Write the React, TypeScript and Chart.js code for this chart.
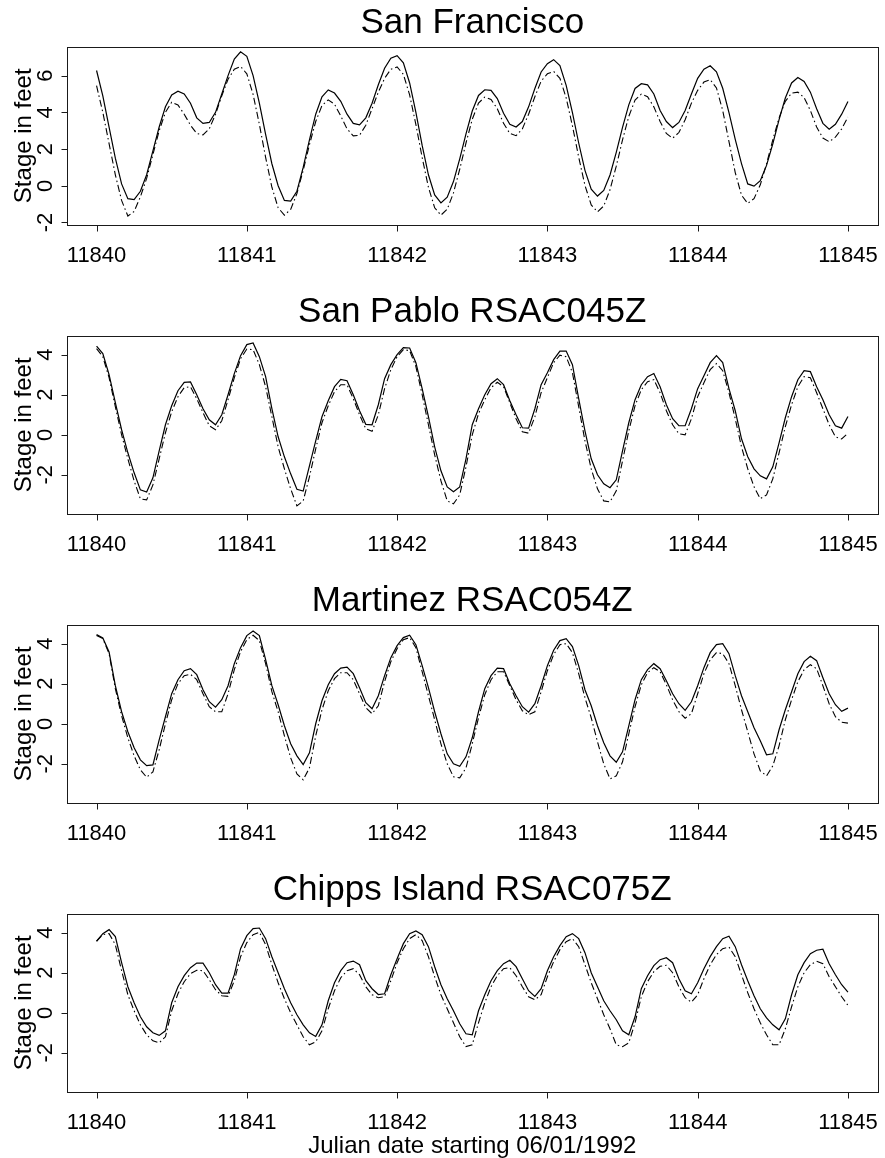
import React, { useEffect, useRef } from "react";
import { Chart, registerables } from "chart.js";

Chart.register(...registerables);

// ---------- data ----------
const START_DAY = 11840;
const HOURS_PER_DAY = 24;
const xTickValues = [11840, 11841, 11842, 11843, 11844, 11845];
const yTicksSF = [-2, 0, 2, 4, 6];
const yTicksDelta = [-2, 0, 2, 4];
const panelTitles = ["San Francisco", "San Pablo RSAC045Z", "Martinez RSAC054Z", "Chipps Island RSAC075Z"];
const xAxisTitle = "Julian date starting 06/01/1992";
const yAxisTitle = "Stage in feet";

// hourly stage values (ft), hour 0 .. 120
const sfSolid = [
  6.28, 4.9, 3.2, 1.5, 0.1, -0.7, -0.75, -0.3, 0.6, 1.9, 3.2, 4.3,
  4.95, 5.15, 5.0, 4.5, 3.7, 3.4, 3.45, 4.0, 5.0, 6.0, 6.9, 7.3,
  7.05, 6.0, 4.5, 2.8, 1.2, 0.0, -0.8, -0.84, -0.3, 1.0, 2.5, 3.9,
  4.85, 5.22, 5.05, 4.6, 3.9, 3.4, 3.32, 3.7, 4.5, 5.5, 6.4, 6.95,
  7.09, 6.7, 5.6, 4.0, 2.2, 0.6, -0.5, -0.93, -0.62, 0.23, 1.47, 2.83,
  4.07, 4.92, 5.23, 5.2, 4.75, 3.95, 3.35, 3.2, 3.5, 4.3, 5.3, 6.2,
  6.65, 6.87, 6.55, 5.47, 3.98, 2.33, 0.84, -0.19, -0.56, -0.25, 0.59, 1.82,
  3.18, 4.41, 5.3, 5.56, 5.5, 5.0, 4.1, 3.5, 3.17, 3.45, 4.1, 5.0,
  5.85, 6.35, 6.54, 6.21, 5.31, 3.99, 2.53, 1.21, 0.1, -0.02, 0.28, 1.11,
  2.28, 3.6, 4.78, 5.6, 5.9, 5.68, 5.1, 4.2, 3.4, 3.08, 3.35, 3.9,
  4.59,
];
const sfDashed = [
  5.45, 4.0, 2.3, 0.6, -0.8, -1.65, -1.4, -0.6, 0.4, 1.7, 3.0, 4.0,
  4.55, 4.4, 3.9, 3.3, 2.85, 2.77, 3.1, 3.9, 4.9, 5.8, 6.35, 6.5,
  6.1, 4.98, 3.35, 1.55, -0.08, -1.2, -1.6, -1.29, -0.42, 0.84, 2.24, 3.5,
  4.37, 4.68, 4.45, 3.8, 3.1, 2.72, 2.75, 3.3, 4.2, 5.1, 5.85, 6.35,
  6.47, 6.07, 4.95, 3.33, 1.54, -0.08, -1.2, -1.6, -1.28, -0.39, 0.9, 2.33,
  3.62, 4.51, 4.83, 4.7, 4.2, 3.4, 2.85, 2.73, 3.1, 3.9, 4.85, 5.7,
  6.1, 6.23, 5.85, 4.79, 3.26, 1.56, 0.02, -1.04, -1.42, -1.1, -0.22, 1.07,
  2.5, 3.78, 4.67, 4.99, 4.85, 4.3, 3.5, 2.85, 2.59, 2.9, 3.6, 4.5,
  5.2, 5.65, 5.78, 5.33, 4.1, 2.41, 0.72, -0.51, -0.96, -0.7, 0.05, 1.2,
  2.5, 3.7, 4.6, 5.05, 5.1, 4.8, 4.1, 3.2, 2.6, 2.4, 2.65, 3.1,
  3.74,
];
const spSolid = [
  4.43, 4.05, 3.0, 1.6, 0.25, -0.9, -1.9, -2.75, -2.86, -2.15, -0.8, 0.5,
  1.45, 2.2, 2.62, 2.64, 2.0, 1.3, 0.75, 0.5, 1.0, 2.0, 3.05, 3.95,
  4.5, 4.58, 3.9, 2.9, 1.3, -0.1, -1.1, -1.95, -2.72, -2.81, -1.55, -0.3,
  0.9, 1.7, 2.4, 2.76, 2.7, 2.0, 1.2, 0.52, 0.5, 1.5, 2.8, 3.5,
  4.0, 4.35, 4.33, 3.6, 2.3, 0.9, -0.6, -1.8, -2.6, -2.84, -2.6, -1.2,
  0.5, 1.3, 2.0, 2.55, 2.8, 2.5, 1.7, 1.0, 0.35, 0.33, 1.3, 2.5,
  3.1, 3.75, 4.18, 4.18, 3.5, 1.8, 0.2, -1.2, -2.0, -2.45, -2.64, -2.25,
  -0.8, 0.6, 1.75, 2.5, 2.9, 3.06, 2.4, 1.5, 0.8, 0.45, 0.45, 1.3,
  2.3, 2.95, 3.6, 3.95, 3.6, 2.3, 1.2, -0.2, -1.1, -1.7, -2.05, -2.2,
  -1.6, -0.4, 0.85, 1.9, 2.75, 3.2, 3.15, 2.4, 1.75, 1.0, 0.45, 0.33,
  0.91,
];
const spDashed = [
  4.3, 3.9, 2.85, 1.4, 0.0, -1.2, -2.3, -3.2, -3.25, -2.5, -1.2, 0.1,
  1.15, 1.9, 2.35, 2.4, 1.8, 1.1, 0.45, 0.25, 0.7, 1.75, 2.85, 3.8,
  4.28, 4.25, 3.5, 2.4, 0.9, -0.6, -1.7, -2.7, -3.55, -3.3, -2.1, -0.7,
  0.6, 1.45, 2.15, 2.5, 2.5, 1.8, 1.0, 0.3, 0.17, 1.0, 2.3, 3.25,
  3.9, 4.25, 4.2, 3.4, 2.0, 0.5, -1.0, -2.3, -3.3, -3.45, -3.0, -1.6,
  0.0, 1.05, 1.75, 2.35, 2.62, 2.4, 1.6, 0.8, 0.15, 0.08, 0.9, 2.1,
  2.85, 3.6, 3.97, 3.9, 3.1, 1.4, -0.3, -1.7, -2.7, -3.3, -3.35, -2.8,
  -1.3, 0.2, 1.45, 2.25, 2.65, 2.75, 2.1, 1.2, 0.5, 0.05, 0.0, 0.8,
  1.9, 2.6, 3.25, 3.55, 3.2, 2.1, 0.8, -0.6, -1.7, -2.6, -3.19, -3.0,
  -2.2, -0.9, 0.4, 1.5, 2.4, 2.9, 2.85, 2.1, 1.3, 0.5, -0.1, -0.21,
  0.08,
];
const mtzSolid = [
  4.45, 4.28, 3.58, 1.9, 0.6, -0.4, -1.2, -1.8, -2.09, -2.05, -0.8, 0.35,
  1.5, 2.2, 2.65, 2.75, 2.45, 1.7, 1.1, 0.83, 1.2, 1.9, 3.0, 3.8,
  4.4, 4.63, 4.4, 3.2, 1.9, 0.95, -0.1, -1.0, -1.6, -2.04, -1.45, 0.0,
  1.15, 1.95, 2.5, 2.78, 2.83, 2.5, 1.8, 1.05, 0.75, 1.4, 2.4, 3.3,
  3.9, 4.3, 4.42, 3.95, 2.9, 1.8, 0.6, -0.5, -1.5, -2.0, -2.12, -1.65,
  -0.7, 0.6, 1.75, 2.4, 2.78, 2.75, 2.0, 1.4, 0.85, 0.58, 1.0, 1.9,
  2.9, 3.67, 4.15, 4.25, 3.85, 2.9, 1.7, 0.9, -0.1, -0.95, -1.6, -1.92,
  -1.4, -0.1, 1.2, 2.2, 2.7, 3.0, 2.75, 2.15, 1.5, 1.0, 0.67, 1.1,
  1.9, 2.8, 3.55, 3.95, 4.0, 3.5, 2.4, 1.4, 0.6, -0.2, -0.85, -1.55,
  -1.5, -0.3, 0.7, 1.6, 2.5, 3.1, 3.37, 3.15, 2.3, 1.5, 0.95, 0.62,
  0.78,
];
const mtzDashed = [
  4.4, 4.25, 3.5, 1.75, 0.4, -0.7, -1.6, -2.3, -2.67, -2.4, -1.3, 0.0,
  1.2, 2.0, 2.4, 2.47, 2.2, 1.5, 0.85, 0.6, 0.6, 1.5, 2.7, 3.6,
  4.2, 4.42, 4.15, 3.0, 1.6, 0.6, -0.6, -1.7, -2.5, -2.8, -2.2, -0.6,
  0.7, 1.65, 2.25, 2.55, 2.55, 2.2, 1.5, 0.8, 0.5, 0.9, 2.1, 3.1,
  3.75, 4.2, 4.3, 3.8, 2.6, 1.4, 0.2, -1.0, -2.0, -2.65, -2.7, -2.2,
  -1.0, 0.3, 1.45, 2.2, 2.6, 2.6, 1.9, 1.2, 0.65, 0.45, 0.6, 1.6,
  2.65, 3.45, 3.95, 4.0, 3.55, 2.5, 1.3, 0.3, -0.9, -2.0, -2.75, -2.6,
  -1.9, -0.5, 0.85, 1.95, 2.55, 2.8, 2.6, 1.95, 1.2, 0.6, 0.28, 0.5,
  1.5, 2.5, 3.2, 3.55, 3.5, 3.0, 1.9, 0.7, -0.4, -1.5, -2.35, -2.6,
  -2.1, -1.1, 0.2, 1.2, 2.1, 2.7, 2.95, 2.75, 1.9, 1.0, 0.35, 0.08,
  0.03,
];
const chippsSolid = [
  3.57, 3.95, 4.15, 3.8, 2.5, 1.3, 0.5, -0.2, -0.7, -1.0, -1.13, -0.9,
  0.5, 1.3, 1.85, 2.25, 2.48, 2.48, 2.0, 1.4, 0.98, 0.98, 1.9, 3.2,
  3.85, 4.2, 4.23, 3.7, 2.8, 2.0, 1.2, 0.5, -0.1, -0.6, -1.0, -1.18,
  -0.6, 0.6, 1.5, 2.1, 2.5, 2.58, 2.4, 1.6, 1.2, 0.91, 0.95, 1.9,
  2.7, 3.45, 3.95, 4.08, 3.9, 3.3, 2.3, 1.4, 0.7, 0.1, -0.55, -1.05,
  -1.1, 0.1, 0.9, 1.6, 2.1, 2.45, 2.62, 2.3, 1.7, 1.1, 0.82, 1.2,
  2.1, 2.8, 3.35, 3.8, 3.95, 3.7, 3.0, 2.0, 1.3, 0.6, 0.1, -0.35,
  -0.9, -1.1, -0.2, 1.2, 1.85, 2.35, 2.65, 2.75, 2.5, 1.7, 1.1, 0.95,
  1.5, 2.2, 2.8, 3.3, 3.7, 3.82, 3.3, 2.4, 1.6, 0.85, 0.2, -0.25,
  -0.6, -0.85, -0.3, 0.9, 1.9, 2.5, 2.95, 3.12, 3.17, 2.45, 1.9, 1.4,
  1.03,
];
const chippsDashed = [
  3.57, 3.9, 3.95, 3.4, 2.1, 0.9, 0.1, -0.6, -1.1, -1.4, -1.5, -1.2,
  0.1, 0.95, 1.55, 1.95, 2.12, 2.1, 1.65, 1.15, 0.85, 0.82, 1.6, 2.8,
  3.5, 3.9, 4.02, 3.4, 2.4, 1.5, 0.7, 0.0, -0.6, -1.2, -1.6, -1.45,
  -0.9, 0.2, 1.1, 1.75, 2.1, 2.2, 1.9, 1.3, 0.9, 0.75, 0.8, 1.6,
  2.5, 3.2, 3.7, 3.9, 3.6, 2.8, 1.8, 0.9, 0.2, -0.5, -1.2, -1.69,
  -1.6, -0.5, 0.5, 1.3, 1.85, 2.2, 2.25, 1.85, 1.3, 0.8, 0.65, 0.9,
  1.8, 2.55, 3.15, 3.55, 3.7, 3.3, 2.4, 1.5, 0.7, -0.1, -0.8, -1.6,
  -1.69, -1.5, -0.5, 0.8, 1.55, 2.05, 2.32, 2.37, 2.0, 1.3, 0.75, 0.53,
  0.9, 1.7, 2.4, 2.9, 3.2, 3.28, 2.8, 1.9, 1.0, 0.2, -0.5, -1.1,
  -1.6, -1.6, -0.8, 0.3, 1.3, 2.0, 2.4, 2.57, 2.45, 1.8, 1.3, 0.8,
  0.37,
];

const sfRange = [-2.11, 7.56];
const deltaRange = [-3.93, 4.93];

// ---------- rendering ----------
const FONT = "Arial, 'Liberation Sans', Helvetica, sans-serif";
const PANEL_STEP = 289;

type PanelProps = {
  index: number;
  title: string;
  solid: number[];
  dashed: number[];
  range: number[];
  yTicks: number[];
  showXTitle: boolean;
};

function Panel({ index, title, solid, dashed, range, yTicks, showXTitle }: PanelProps) {
  const ref = useRef<HTMLCanvasElement | null>(null);
  const height = showXTitle ? 291 : PANEL_STEP;
  const padTop = 47;
  const boxBottom = 224.5;

  useEffect(() => {
    const canvas = ref.current;
    if (!canvas) return;
    const toPts = (arr: number[]) => arr.map((v, i) => ({ x: START_DAY + i / HOURS_PER_DAY, y: v }));

    const decor = {
      id: "decor",
      afterDraw(chart: any) {
        const { ctx, chartArea: a, scales } = chart;
        const xs = scales.x;
        const ys = scales.y;
        ctx.save();
        ctx.strokeStyle = "#1a1a1a";
        ctx.lineWidth = 1;
        const L = Math.round(a.left) + 0.5;
        const R = Math.round(a.right) + 0.5;
        const T = Math.round(a.top) + 0.5;
        const B = Math.round(a.bottom) + 0.5;
        ctx.strokeRect(L, T, R - L, B - T);
        ctx.beginPath();
        xTickValues.forEach((v) => {
          const px = Math.round(xs.getPixelForValue(v)) + 0.5;
          ctx.moveTo(px, B);
          ctx.lineTo(px, B + 6);
        });
        yTicks.forEach((v) => {
          const py = Math.round(ys.getPixelForValue(v)) + 0.5;
          ctx.moveTo(L, py);
          ctx.lineTo(L - 6, py);
        });
        ctx.stroke();

        ctx.fillStyle = "#000";
        ctx.textAlign = "center";
        ctx.textBaseline = "alphabetic";
        ctx.font = `22px ${FONT}`;
        xTickValues.forEach((v) => {
          ctx.fillText(String(v), xs.getPixelForValue(v), a.bottom + 37);
        });
        yTicks.forEach((v) => {
          ctx.save();
          ctx.translate(a.left - 15, ys.getPixelForValue(v));
          ctx.rotate(-Math.PI / 2);
          ctx.fillText(String(v), 0, 0);
          ctx.restore();
        });

        ctx.font = `24px ${FONT}`;
        ctx.save();
        ctx.translate(31, (a.top + a.bottom) / 2);
        ctx.rotate(-Math.PI / 2);
        ctx.fillText(yAxisTitle, 0, 0);
        ctx.restore();

        if (showXTitle) {
          ctx.fillText(xAxisTitle, (a.left + a.right) / 2, a.bottom + 61);
        }

        ctx.font = `35px ${FONT}`;
        ctx.fillText(title, (a.left + a.right) / 2, a.top - 14);
        ctx.restore();
      },
    };

    const chart = new Chart(canvas, {
      type: "line",
      data: {
        datasets: [
          {
            data: toPts(dashed),
            borderColor: "#000",
            borderWidth: 1.1,
            borderDash: [7, 3, 1.5, 3],
            pointRadius: 0,
            fill: false,
            tension: 0,
          },
          {
            data: toPts(solid),
            borderColor: "#000",
            borderWidth: 1.2,
            pointRadius: 0,
            fill: false,
            tension: 0,
          },
        ],
      },
      options: {
        responsive: false,
        animation: false,
        devicePixelRatio: 1,
        layout: { padding: { left: 66.5, right: 7, top: padTop, bottom: height - boxBottom } },
        scales: {
          x: { type: "linear", min: 11839.8, max: 11845.2, display: false },
          y: { type: "linear", min: range[0], max: range[1], display: false },
        },
        plugins: { legend: { display: false }, tooltip: { enabled: false }, title: { display: false } },
      },
      plugins: [decor],
    });
    return () => chart.destroy();
  }, []);

  return (
    <canvas
      ref={ref}
      width={885}
      height={height}
      style={{ position: "absolute", left: 0, top: index * PANEL_STEP, width: 885, height }}
    />
  );
}

export default function App() {
  const panels = [
    { solid: sfSolid, dashed: sfDashed, range: sfRange, yTicks: yTicksSF },
    { solid: spSolid, dashed: spDashed, range: deltaRange, yTicks: yTicksDelta },
    { solid: mtzSolid, dashed: mtzDashed, range: deltaRange, yTicks: yTicksDelta },
    { solid: chippsSolid, dashed: chippsDashed, range: deltaRange, yTicks: yTicksDelta },
  ];
  return (
    <div style={{ position: "absolute", left: 0, top: 0, width: 885, height: 1158, background: "#fff" }}>
      {panels.map((p, i) => (
        <Panel
          key={i}
          index={i}
          title={panelTitles[i]}
          solid={p.solid}
          dashed={p.dashed}
          range={p.range}
          yTicks={p.yTicks}
          showXTitle={i === panels.length - 1}
        />
      ))}
    </div>
  );
}
